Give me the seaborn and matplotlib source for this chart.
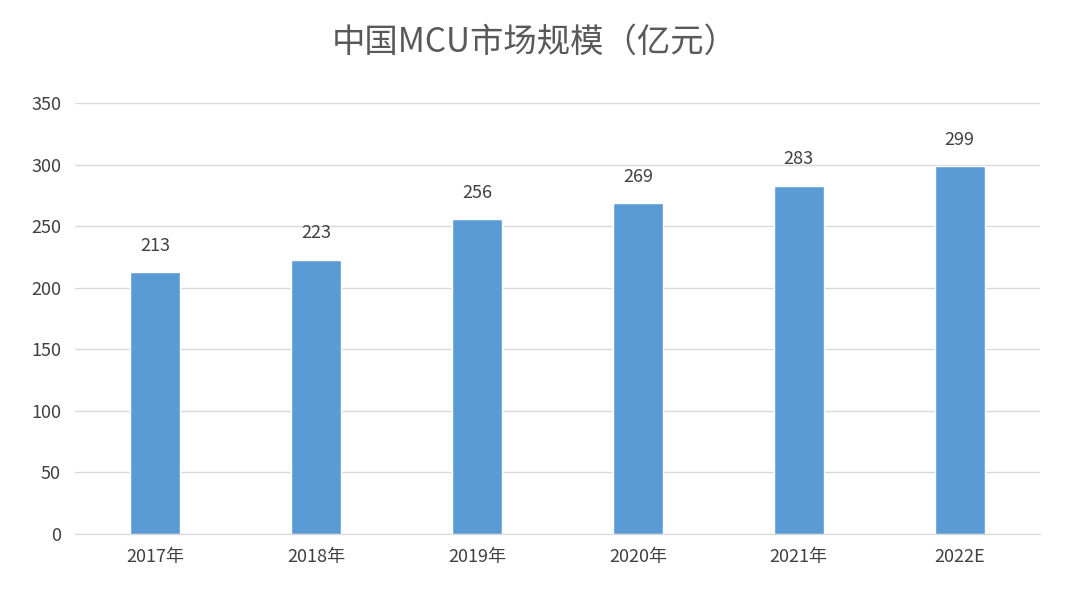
import matplotlib
matplotlib.use("Agg")
import matplotlib.pyplot as plt
import seaborn as sns
import pandas as pd

categories = ["2017年", "2018年", "2019年", "2020年", "2021年", "2022E"]
values = [213, 223, 256, 269, 283, 299]
yticks = [0, 50, 100, 150, 200, 250, 300, 350]

sns.set_style("white")
plt.rcParams['font.family'] = ['Noto Sans CJK SC', 'DejaVu Sans']

df = pd.DataFrame({"year": categories, "value": values})
fig = plt.figure(figsize=(10.7, 6.0), dpi=100)
ax = fig.add_axes([0.070, 0.11, 0.902, 0.718])
sns.barplot(data=df, x="year", y="value", color="#5B9BD5", width=0.31, ax=ax, saturation=1)
ax.set_ylim(0, 350)
ax.set_yticks(yticks)
ax.yaxis.grid(True, color="#D9D9D9", linewidth=1)
ax.set_axisbelow(True)
for s in ["top", "right", "left"]:
    ax.spines[s].set_visible(False)
ax.spines["bottom"].set_color("#D9D9D9")
ax.tick_params(axis="both", length=0, labelsize=13, colors="#404040", pad=10)
ax.set_xlabel("")
ax.set_ylabel("")
for i, v in enumerate(values):
    ax.text(i, v + 14, str(v), ha="center", va="bottom", fontsize=13, color="#404040")
fig.text(0.5, 0.93, "中国MCU市场规模（亿元）", ha="center", va="center", fontsize=24, color="#595959")
fig.savefig("out.png", dpi=100)
